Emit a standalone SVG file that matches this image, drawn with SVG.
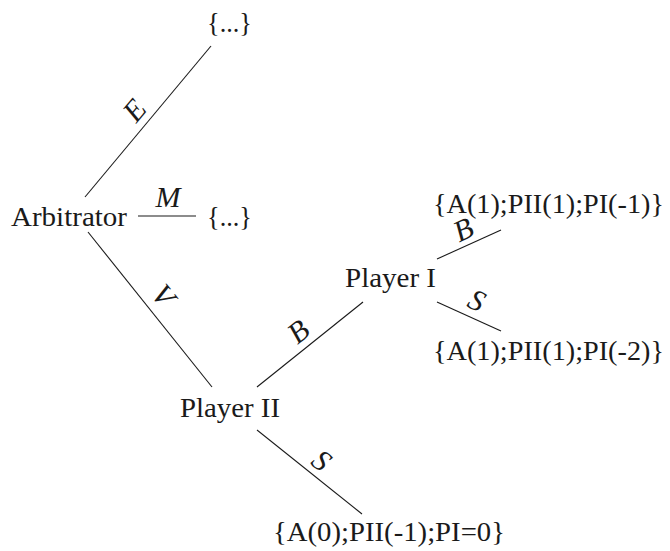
<svg xmlns="http://www.w3.org/2000/svg" width="670" height="551" viewBox="0 0 670 551">
<style>
text{font-family:"Liberation Serif","Times New Roman",serif;font-size:28px;fill:#1a1a1a}
.l{font-style:italic;font-size:30px;text-anchor:middle;dominant-baseline:central}
.e line{stroke:#1a1a1a;stroke-width:1.1}
</style>
<rect width="670" height="551" fill="#fff"/>
<g id="edges" class="e">
<line x1="85" y1="197" x2="211" y2="46"/>
<line x1="138" y1="216" x2="196" y2="216"/>
<line x1="88" y1="232" x2="212" y2="387"/>
<line x1="257" y1="387" x2="363" y2="302"/>
<line x1="437" y1="259" x2="501" y2="230"/>
<line x1="437" y1="302" x2="501" y2="331"/>
<line x1="257" y1="430" x2="362" y2="514"/>
<text class="l" transform="translate(134,110) rotate(-50)">E</text>
<text class="l" x="168" y="196">M</text>
<text class="l" transform="translate(164,295) rotate(51)">V</text>
<text class="l" transform="translate(298,331) rotate(-39)">B</text>
<text class="l" transform="translate(463,229) rotate(-25)">B</text>
<text class="l" transform="translate(477,300) rotate(25)">S</text>
<text class="l" transform="translate(322,460) rotate(39)">S</text>
</g>
<g id="arbitrator"><text x="11" y="226" textLength="116" lengthAdjust="spacingAndGlyphs">Arbitrator</text></g>
<g id="e-leaf"><text x="207" y="32" textLength="45" lengthAdjust="spacingAndGlyphs">{...}</text></g>
<g id="m-leaf"><text x="207" y="226" textLength="45" lengthAdjust="spacingAndGlyphs">{...}</text></g>
<g id="player2"><text x="180" y="417" textLength="100" lengthAdjust="spacingAndGlyphs">Player II</text></g>
<g id="player1"><text x="345" y="287" textLength="91" lengthAdjust="spacingAndGlyphs">Player I</text></g>
<g id="leaf-bb"><text x="433" y="213" textLength="231" lengthAdjust="spacingAndGlyphs">{A(1);PII(1);PI(-1)}</text></g>
<g id="leaf-bs"><text x="433" y="360" textLength="231" lengthAdjust="spacingAndGlyphs">{A(1);PII(1);PI(-2)}</text></g>
<g id="leaf-s"><text x="273" y="541" textLength="232" lengthAdjust="spacingAndGlyphs">{A(0);PII(-1);PI=0}</text></g>
</svg>
